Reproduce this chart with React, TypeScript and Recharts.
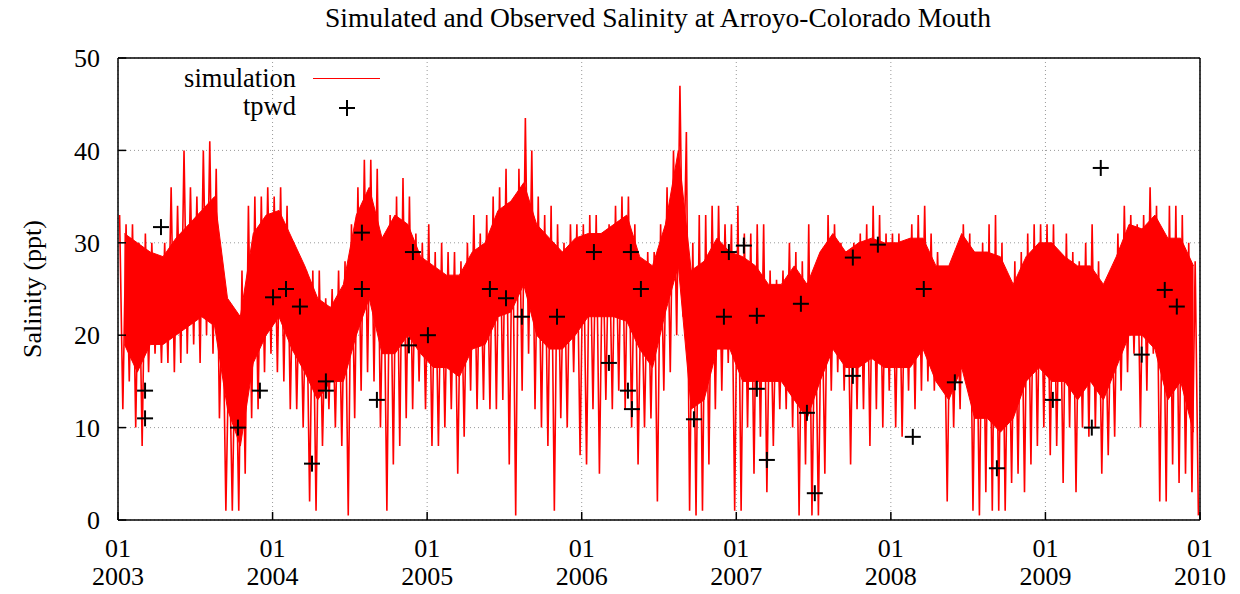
import React from "react";
import {
  ComposedChart,
  Line,
  Area,
  Scatter,
  XAxis,
  YAxis,
  CartesianGrid,
} from "recharts";

// half-month peaks and troughs of the simulated salinity (2003-01 .. 2009-12)
const simHigh: number[] = [
  // 2003
  33, 32, 32, 30, 31, 30, 28, 30, 36, 34, 40, 36, 35, 40, 41, 38, 25, 20, 22, 27, 34, 35, 35, 36,
  // 2004
  35, 36, 34, 30, 28, 27, 27, 27, 24, 25, 27, 28, 32, 36, 39, 39, 38, 30, 33, 35, 37, 35, 31, 30,
  // 2005
  32, 29, 30, 29, 29, 28, 30, 33, 31, 33, 35, 36, 38, 34, 38, 43.5, 40, 35, 33, 34, 32, 30, 32, 32,
  // 2006
  32, 33, 33, 31, 32, 34, 35, 35, 32, 27, 29, 29, 32, 36, 40, 47, 42, 30, 33, 33, 34, 34, 32, 32,
  // 2007
  34, 31, 31, 32, 32, 27, 26, 27, 30, 29, 28, 32, 25, 27, 33, 32, 30, 29, 30, 31, 32, 34, 33, 31,
  // 2008
  31, 31, 30, 32, 33, 34, 31, 29, 26, 27, 26, 32, 31, 27, 30, 32, 33, 30, 25, 28, 29, 31, 32, 32,
  // 2009
  32, 32, 29, 31, 29, 28, 30, 32, 28, 25, 26, 31, 34, 33, 32, 33, 36, 34, 31, 34, 34, 33, 30, 28,
];

const simLow: number[] = [
  // 2003
  12, 15, 10, 8, 16, 18, 17, 17, 16, 17, 18, 19, 17, 20, 18, 11, 1, 1, 1, 5, 11, 12, 16, 18,
  // 2004
  16, 15, 12, 12, 10, 2, 1, 8, 12, 10, 8, 0.5, 11, 14, 16, 15, 10, 1, 6, 8, 11, 12, 15, 12,
  // 2005
  8, 8, 10, 12, 5, 9, 14, 12, 13, 12, 12, 13, 6, 0.5, 14, 18, 12, 10, 8, 1, 11, 10, 16, 7,
  // 2006
  6, 12, 5, 13, 12, 14, 12, 10, 6, 10, 11, 2, 14, 16, 20, 22, 1, 0.5, 1, 6, 12, 14, 17, 1,
  // 2007
  1, 10, 5, 9, 3, 8, 12, 12, 10, 0.5, 6, 0.5, 0.5, 5, 14, 16, 14, 6, 12, 12, 8, 12, 10, 14,
  // 2008
  10, 9, 14, 12, 14, 15, 14, 15, 2, 10, 12, 16, 1, 0.5, 3, 1, 1, 1, 4, 5, 3, 6, 8, 10,
  // 2009
  7, 8, 4, 10, 3, 10, 9, 10, 5, 7, 9, 14, 16, 18, 10, 14, 18, 2, 2, 6, 4, 5, 3, 0.5,
];

// monthly dense core of the simulated band (where the trace is solid red)
const coreHigh: number[] = [
  31, 30, 29, 28.5, 30.5, 32, 33.5, 35, 24, 22, 31, 33,
  33.5, 30.5, 27.5, 24, 23, 25.5, 33, 36, 30.5, 33, 32, 28.5,
  27.5, 26.5, 26.5, 29, 30, 33.5, 34.5, 36.5, 32, 30.5, 29, 30.5,
  31, 31, 32, 33, 28.5, 27.5, 32, 40, 27, 28, 30.5, 29,
  28.5, 27.5, 25.5, 25.5, 27.5, 25.5, 29, 31, 29, 30, 30.5, 30,
  30, 30.5, 30.5, 27.5, 27.5, 31, 29, 29, 28.5, 25.5, 28.5, 30,
  30, 28.5, 27.5, 27.5, 25.5, 28.5, 32, 31.5, 33, 30.5, 30.5, 27.5,
];
const coreLow: number[] = [
  19, 16, 19, 19, 20, 21, 22, 21, 12, 8, 17, 20,
  22, 18.5, 16, 13, 15, 15, 20, 24, 18, 18, 20, 18,
  16.5, 16.5, 15.5, 18.5, 19, 22, 22.5, 25.5, 20, 18.5, 18.5, 20,
  22, 22, 22, 21.5, 18.5, 16.5, 22.5, 27.5, 12, 13, 18.5, 18.5,
  15, 15, 15, 15, 13, 11, 15, 18.5, 16.5, 16.5, 17.5, 16.5,
  16.5, 16.5, 18.5, 15, 13, 16.5, 11, 11, 9.5, 11, 15, 16.5,
  15, 15, 13, 15, 13, 16.5, 20, 20, 18.5, 13, 15, 9.5,
];

// tpwd observations (decimal year, ppt)
const obsTime: number[] = [
  2003.175, 2003.175, 2003.278, 2003.776, 2003.918, 2004.003, 2004.087, 2004.177, 2004.255,
  2004.345, 2004.345, 2004.578, 2004.578, 2004.675, 2004.882, 2004.908, 2005.005, 2005.406,
  2005.51, 2005.613, 2005.84, 2006.079, 2006.176, 2006.299, 2006.325, 2006.318, 2006.383,
  2006.726, 2006.92, 2006.952, 2007.049, 2007.133, 2007.133, 2007.198, 2007.418, 2007.457,
  2007.508, 2007.754, 2007.754, 2007.916, 2008.142, 2008.213, 2008.414, 2008.686, 2009.048,
  2009.3, 2009.358, 2009.623, 2009.772, 2009.85,
];
const obsValue: number[] = [
  14, 11, 31.7, 10, 14, 24.1, 25, 23.1, 6.1,
  15, 14, 31.1, 25, 13, 18.9, 29, 20, 25,
  24, 22, 22, 29, 17, 14, 12, 29, 25,
  10.9, 22, 29, 29.7, 22.1, 14.2, 6.5, 23.4, 11.6,
  2.9, 28.4, 15.6, 29.8, 9, 25, 14.9, 5.6, 13,
  10, 38.1, 17.9, 24.9, 23.1,
];

const yearTicks = [2003, 2004, 2005, 2006, 2007, 2008, 2009, 2010];
const salTicks = [0, 10, 20, 30, 40, 50];

const FONT = '"Liberation Serif", "Times New Roman", serif';
const RED = "#ff0000";

const simData = simHigh.flatMap((hi, i) => [
  { t: 2003 + (i + 0.25) / 24, v: hi },
  { t: 2003 + (i + 0.75) / 24, v: simLow[i] },
]);
const coreData = coreHigh.map((hi, i) => ({
  t: 2003 + (i + 0.5) / 12,
  band: [coreLow[i], hi],
}));
const obsData = obsTime.map((t, i) => ({ t, v: obsValue[i] }));

function YearTick({ x, y, payload }: any) {
  return (
    <text x={x} y={y} textAnchor="middle" fontFamily={FONT} fontSize={26} fill="#000">
      <tspan x={x} dy={37}>01</tspan>
      <tspan x={x} dy={28}>{payload.value}</tspan>
    </text>
  );
}

function Plus({ cx, cy }: any) {
  return (
    <g stroke="#000" strokeWidth={2}>
      <line x1={cx - 8} y1={cy} x2={cx + 8} y2={cy} />
      <line x1={cx} y1={cy - 8} x2={cx} y2={cy + 8} />
    </g>
  );
}

export default function App() {
  return (
    <div
      style={{
        position: "absolute",
        left: 0,
        top: 0,
        width: 1240,
        height: 594,
        background: "#fff",
        fontFamily: FONT,
      }}
    >
      <div
        style={{
          position: "absolute",
          left: 0,
          width: 1316,
          top: 3,
          textAlign: "center",
          fontSize: 27.5,
          lineHeight: "30px",
        }}
      >
        Simulated and Observed Salinity at Arroyo-Colorado Mouth
      </div>
      <div
        style={{
          position: "absolute",
          left: 33,
          top: 289,
          transform: "translate(-50%, -50%) rotate(-90deg)",
          fontSize: 26,
          whiteSpace: "nowrap",
        }}
      >
        Salinity (ppt)
      </div>
      <ComposedChart
        width={1240}
        height={594}
        margin={{ top: 57, right: 39, bottom: 0, left: 58 }}
      >
        <CartesianGrid stroke="#999" strokeDasharray="1 3" />
        <XAxis
          dataKey="t"
          type="number"
          domain={[2003, 2010]}
          ticks={yearTicks}
          height={74}
          tickSize={-8}
          tickMargin={8}
          tick={<YearTick />}
          axisLine={{ stroke: "#000", strokeWidth: 1.5 }}
          tickLine={{ stroke: "#000", strokeWidth: 1.5 }}
          allowDataOverflow
        />
        <XAxis
          xAxisId="top"
          orientation="top"
          type="number"
          domain={[2003, 2010]}
          ticks={yearTicks}
          height={1}
          tickSize={-8}
          tick={false}
          axisLine={{ stroke: "#000", strokeWidth: 1.5 }}
          tickLine={{ stroke: "#000", strokeWidth: 1.5 }}
        />
        <YAxis
          type="number"
          domain={[0, 50]}
          ticks={salTicks}
          width={60}
          tickSize={-8}
          tickMargin={26}
          tick={{ fontSize: 26, fontFamily: FONT, fill: "#000" }}
          axisLine={{ stroke: "#000", strokeWidth: 1.5 }}
          tickLine={{ stroke: "#000", strokeWidth: 1.5 }}
          allowDataOverflow
        />
        <YAxis
          yAxisId="right"
          orientation="right"
          type="number"
          domain={[0, 50]}
          ticks={salTicks}
          width={1}
          tickSize={-8}
          tick={false}
          axisLine={{ stroke: "#000", strokeWidth: 1.5 }}
          tickLine={{ stroke: "#000", strokeWidth: 1.5 }}
        />
        <Area
          data={coreData}
          dataKey="band"
          type="linear"
          stroke={RED}
          strokeWidth={1}
          fill={RED}
          fillOpacity={1}
          dot={false}
          activeDot={false}
          isAnimationActive={false}
        />
        <Line
          data={simData}
          dataKey="v"
          type="linear"
          stroke={RED}
          strokeWidth={1.6}
          dot={false}
          activeDot={false}
          isAnimationActive={false}
        />
        <Scatter
          data={obsData}
          dataKey="v"
          shape={<Plus />}
          isAnimationActive={false}
        />
      </ComposedChart>
      <div
        style={{
          position: "absolute",
          right: 1240 - 296,
          top: 64,
          fontSize: 26.5,
          lineHeight: "28px",
          textAlign: "right",
        }}
      >
        <div>simulation</div>
        <div>tpwd</div>
      </div>
      <div
        style={{
          position: "absolute",
          left: 313,
          top: 78,
          width: 67,
          height: 1,
          background: RED,
        }}
      />
      <svg
        style={{ position: "absolute", left: 338, top: 99 }}
        width={18}
        height={18}
      >
        <g stroke="#000" strokeWidth={2}>
          <line x1={1} y1={9} x2={17} y2={9} />
          <line x1={9} y1={1} x2={9} y2={17} />
        </g>
      </svg>
    </div>
  );
}
